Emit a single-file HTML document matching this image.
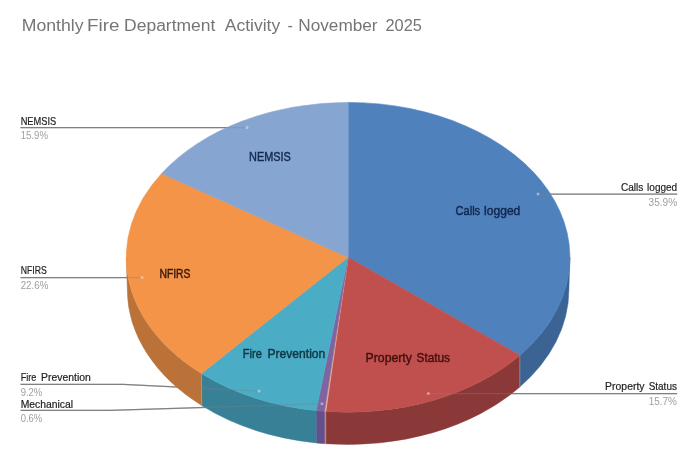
<!DOCTYPE html>
<html><head><meta charset="utf-8"><title>Monthly Fire Department Activity</title>
<style>html,body{margin:0;padding:0;background:#fff;overflow:hidden}svg{display:block}</style></head>
<body>
<svg width="694" height="460" viewBox="0 0 694 460">
<rect width="694" height="460" fill="#ffffff"/>
<g>
<path d="M20.5 127.5 L247.0 127.5" fill="none" stroke="#828282" stroke-width="1.25" stroke-opacity="1"/>
<path d="M20.5 277.6 L142.0 277.6" fill="none" stroke="#828282" stroke-width="1.25" stroke-opacity="1"/>
<path d="M20.5 384.3 L123.0 384.3 L259.0 391.0" fill="none" stroke="#828282" stroke-width="1.25" stroke-opacity="1"/>
<path d="M20.5 410.4 L110.0 410.4 L322.0 403.7" fill="none" stroke="#828282" stroke-width="1.25" stroke-opacity="1"/>
<path d="M538.0 194.1 L677.2 194.1" fill="none" stroke="#828282" stroke-width="1.25" stroke-opacity="1"/>
<path d="M428.4 393.6 L677.2 393.6" fill="none" stroke="#828282" stroke-width="1.25" stroke-opacity="1"/>
</g>
<g>
<path d="M569.90 257.30 A221.8 154.9 0 0 1 519.88 355.29 L519.11 387.59 A220.8 154.9 0 0 0 568.90 289.60 Z" fill="#3B6394" stroke="#3B6394" stroke-width="0.5" stroke-linejoin="round"/>
<path d="M519.88 355.29 A221.8 154.9 0 0 1 325.84 411.42 L325.94 443.72 A220.8 154.9 0 0 0 519.11 387.59 Z" fill="#8B3838" stroke="#8B3838" stroke-width="0.5" stroke-linejoin="round"/>
<path d="M325.84 411.42 A221.8 154.9 0 0 1 324.45 411.32 L324.56 443.62 A220.8 154.9 0 0 0 325.94 443.72 Z" fill="#B98A6A" stroke="#B98A6A" stroke-width="0.5" stroke-linejoin="round"/>
<path d="M324.45 411.32 A221.8 154.9 0 0 1 316.16 410.59 L316.30 442.89 A220.8 154.9 0 0 0 324.56 443.62 Z" fill="#654E8C" stroke="#654E8C" stroke-width="0.5" stroke-linejoin="round"/>
<path d="M316.16 410.59 A221.8 154.9 0 0 1 201.42 373.49 L202.08 405.79 A220.8 154.9 0 0 0 316.30 442.89 Z" fill="#388096" stroke="#388096" stroke-width="0.5" stroke-linejoin="round"/>
<path d="M201.42 373.49 A221.8 154.9 0 0 1 126.30 257.30 L127.30 289.60 A220.8 154.9 0 0 0 202.08 405.79 Z" fill="#BA7238" stroke="#BA7238" stroke-width="0.5" stroke-linejoin="round"/>
<path d="M348.1 257.3 L348.10 102.40 A221.8 154.9 0 0 1 519.88 355.29 Z" fill="#4F81BD" stroke="#4F81BD" stroke-width="0.6"/>
<path d="M348.1 257.3 L519.88 355.29 A221.8 154.9 0 0 1 325.84 411.42 Z" fill="#C0504D" stroke="#C0504D" stroke-width="0.6"/>
<path d="M348.1 257.3 L325.84 411.42 A221.8 154.9 0 0 1 324.45 411.32 Z" fill="#E3B29A" stroke="#E3B29A" stroke-width="0.6"/>
<path d="M348.1 257.3 L324.45 411.32 A221.8 154.9 0 0 1 316.16 410.59 Z" fill="#8064A2" stroke="#8064A2" stroke-width="0.6"/>
<path d="M348.1 257.3 L316.16 410.59 A221.8 154.9 0 0 1 201.42 373.49 Z" fill="#4BACC6" stroke="#4BACC6" stroke-width="0.6"/>
<path d="M348.1 257.3 L201.42 373.49 A221.8 154.9 0 0 1 161.58 173.48 Z" fill="#F39448" stroke="#F39448" stroke-width="0.6"/>
<path d="M348.1 257.3 L161.58 173.48 A221.8 154.9 0 0 1 348.10 102.40 Z" fill="#86A6D1" stroke="#86A6D1" stroke-width="0.6"/>
</g>
<line x1="519.88" y1="355.29" x2="519.88" y2="387.59" stroke="#b0a8a0" stroke-opacity="0.55" stroke-width="1"/>
<line x1="201.42" y1="373.49" x2="201.42" y2="405.79" stroke="#b0a8a0" stroke-opacity="0.55" stroke-width="1"/>
<g>
<path d="M20.5 127.5 L247.0 127.5" fill="none" stroke="#828282" stroke-width="1.25" stroke-opacity="0.35"/>
<path d="M20.5 277.6 L142.0 277.6" fill="none" stroke="#828282" stroke-width="1.25" stroke-opacity="0.35"/>
<path d="M20.5 384.3 L123.0 384.3 L259.0 391.0" fill="none" stroke="#828282" stroke-width="1.25" stroke-opacity="0.35"/>
<path d="M20.5 410.4 L110.0 410.4 L322.0 403.7" fill="none" stroke="#828282" stroke-width="1.25" stroke-opacity="0.35"/>
<path d="M538.0 194.1 L677.2 194.1" fill="none" stroke="#828282" stroke-width="1.25" stroke-opacity="0.35"/>
<path d="M428.4 393.6 L677.2 393.6" fill="none" stroke="#828282" stroke-width="1.25" stroke-opacity="0.35"/>
<circle cx="247" cy="127.5" r="1.5" fill="#ffffff" fill-opacity="0.42"/>
<circle cx="142" cy="277.6" r="1.5" fill="#ffffff" fill-opacity="0.42"/>
<circle cx="259" cy="391" r="1.5" fill="#ffffff" fill-opacity="0.42"/>
<circle cx="322" cy="403.7" r="1.5" fill="#ffffff" fill-opacity="0.42"/>
<circle cx="538" cy="194.1" r="1.5" fill="#ffffff" fill-opacity="0.42"/>
<circle cx="428.4" cy="393.6" r="1.5" fill="#ffffff" fill-opacity="0.42"/>
</g>
<text y="30.6" font-size="16" fill="#757575" font-family="'Liberation Sans', Arial, sans-serif" > <tspan x="21.7" textLength="61.8" lengthAdjust="spacingAndGlyphs">Monthly</tspan> <tspan x="87.0" textLength="32.4" lengthAdjust="spacingAndGlyphs">Fire</tspan> <tspan x="124.1" textLength="91.3" lengthAdjust="spacingAndGlyphs">Department</tspan> <tspan x="224.8" textLength="55.4" lengthAdjust="spacingAndGlyphs">Activity</tspan> <tspan x="287.5" textLength="5.4" lengthAdjust="spacingAndGlyphs">-</tspan> <tspan x="298.3" textLength="79.3" lengthAdjust="spacingAndGlyphs">November</tspan> <tspan x="385.5" textLength="36.4" lengthAdjust="spacingAndGlyphs">2025</tspan> </text>
<text y="124.5" font-size="11" fill="#222222" font-family="'Liberation Sans', Arial, sans-serif" stroke="#222222" stroke-width="0.2"> <tspan x="20.7" textLength="35.5" lengthAdjust="spacingAndGlyphs">NEMSIS</tspan> </text>
<text y="139.2" font-size="11" fill="#9e9e9e" font-family="'Liberation Sans', Arial, sans-serif" > <tspan x="20.7" textLength="27.3" lengthAdjust="spacingAndGlyphs">15.9%</tspan> </text>
<text y="274.0" font-size="11" fill="#222222" font-family="'Liberation Sans', Arial, sans-serif" stroke="#222222" stroke-width="0.2"> <tspan x="20.7" textLength="26.1" lengthAdjust="spacingAndGlyphs">NFIRS</tspan> </text>
<text y="288.7" font-size="11" fill="#9e9e9e" font-family="'Liberation Sans', Arial, sans-serif" > <tspan x="20.7" textLength="27.7" lengthAdjust="spacingAndGlyphs">22.6%</tspan> </text>
<text y="381.3" font-size="11" fill="#222222" font-family="'Liberation Sans', Arial, sans-serif" stroke="#222222" stroke-width="0.2"> <tspan x="20.7" textLength="15.6" lengthAdjust="spacingAndGlyphs">Fire</tspan> <tspan x="41.1" textLength="49.7" lengthAdjust="spacingAndGlyphs">Prevention</tspan> </text>
<text y="395.9" font-size="11" fill="#9e9e9e" font-family="'Liberation Sans', Arial, sans-serif" > <tspan x="20.7" textLength="21.6" lengthAdjust="spacingAndGlyphs">9.2%</tspan> </text>
<text y="407.5" font-size="11" fill="#222222" font-family="'Liberation Sans', Arial, sans-serif" stroke="#222222" stroke-width="0.2"> <tspan x="20.7" textLength="52.4" lengthAdjust="spacingAndGlyphs">Mechanical</tspan> </text>
<text y="421.9" font-size="11" fill="#9e9e9e" font-family="'Liberation Sans', Arial, sans-serif" > <tspan x="20.7" textLength="21.6" lengthAdjust="spacingAndGlyphs">0.6%</tspan> </text>
<text y="191.1" font-size="11" fill="#222222" font-family="'Liberation Sans', Arial, sans-serif" stroke="#222222" stroke-width="0.2"> <tspan x="621.0" textLength="22.3" lengthAdjust="spacingAndGlyphs">Calls</tspan> <tspan x="647.1" textLength="30.1" lengthAdjust="spacingAndGlyphs">logged</tspan> </text>
<text y="205.6" font-size="11" fill="#9e9e9e" font-family="'Liberation Sans', Arial, sans-serif" > <tspan x="648.6" textLength="28.6" lengthAdjust="spacingAndGlyphs">35.9%</tspan> </text>
<text y="389.9" font-size="11" fill="#222222" font-family="'Liberation Sans', Arial, sans-serif" stroke="#222222" stroke-width="0.2"> <tspan x="605.1" textLength="39.5" lengthAdjust="spacingAndGlyphs">Property</tspan> <tspan x="648.7" textLength="28.2" lengthAdjust="spacingAndGlyphs">Status</tspan> </text>
<text y="404.6" font-size="11" fill="#9e9e9e" font-family="'Liberation Sans', Arial, sans-serif" > <tspan x="648.7" textLength="28.3" lengthAdjust="spacingAndGlyphs">15.7%</tspan> </text>
<text y="214.6" font-size="13" fill="#12264d" font-family="'Liberation Sans', Arial, sans-serif" stroke="#12264d" stroke-width="0.45"> <tspan x="455.6" textLength="24.5" lengthAdjust="spacingAndGlyphs">Calls</tspan> <tspan x="484.1" textLength="36.2" lengthAdjust="spacingAndGlyphs">logged</tspan> </text>
<text y="160.8" font-size="13" fill="#16294f" font-family="'Liberation Sans', Arial, sans-serif" stroke="#16294f" stroke-width="0.45"> <tspan x="249.1" textLength="41.8" lengthAdjust="spacingAndGlyphs">NEMSIS</tspan> </text>
<text y="278.3" font-size="13" fill="#3a180a" font-family="'Liberation Sans', Arial, sans-serif" stroke="#3a180a" stroke-width="0.45"> <tspan x="159.4" textLength="31.1" lengthAdjust="spacingAndGlyphs">NFIRS</tspan> </text>
<text y="358.3" font-size="13" fill="#0f3647" font-family="'Liberation Sans', Arial, sans-serif" stroke="#0f3647" stroke-width="0.45"> <tspan x="242.8" textLength="19.0" lengthAdjust="spacingAndGlyphs">Fire</tspan> <tspan x="267.5" textLength="57.8" lengthAdjust="spacingAndGlyphs">Prevention</tspan> </text>
<text y="361.6" font-size="13" fill="#45100f" font-family="'Liberation Sans', Arial, sans-serif" stroke="#45100f" stroke-width="0.45"> <tspan x="365.6" textLength="46.3" lengthAdjust="spacingAndGlyphs">Property</tspan> <tspan x="416.6" textLength="33.3" lengthAdjust="spacingAndGlyphs">Status</tspan> </text>
</svg>
</body></html>
